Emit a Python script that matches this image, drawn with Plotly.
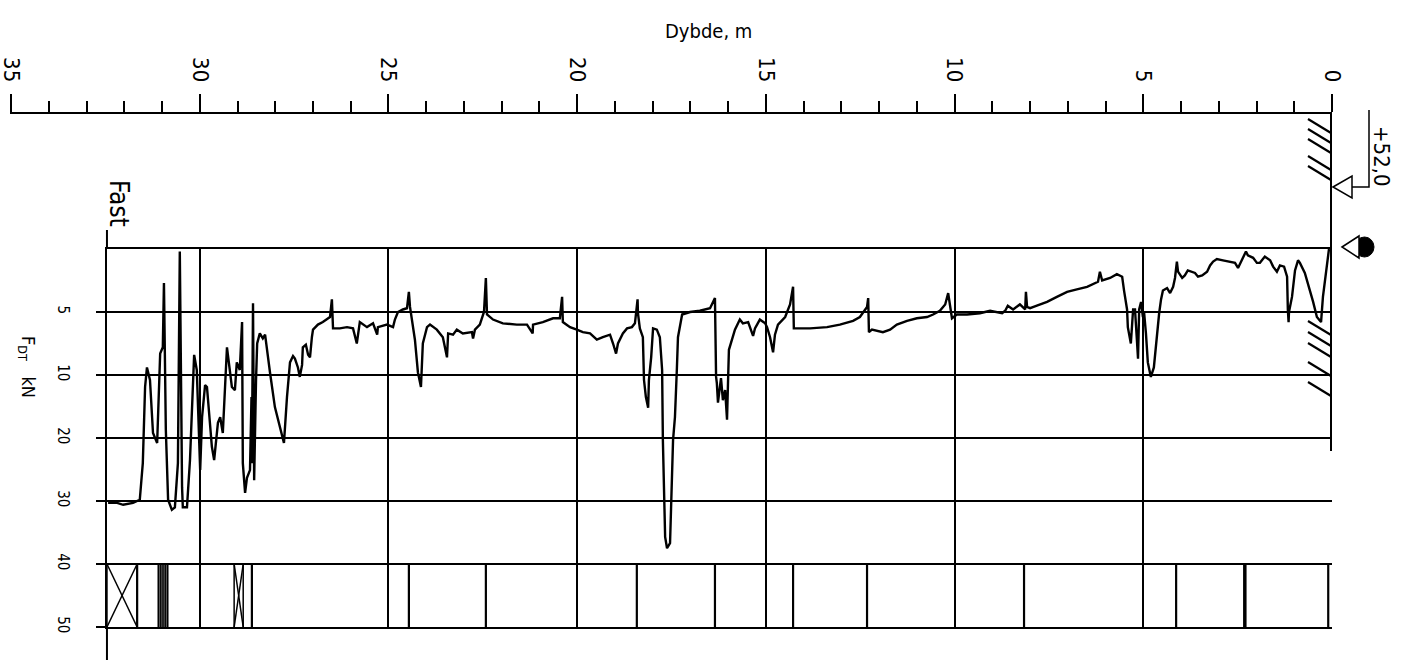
import plotly.graph_objects as go

W, H = 1408, 669

# ---------------- data ----------------
depth_m = [0.08, 0.13, 0.24, 0.29, 0.40, 0.50, 0.58, 0.64, 0.72, 0.85, 0.90, 0.98, 1.06, 1.14, 1.15, 1.17, 1.19, 1.27,
           1.38, 1.46, 1.56, 1.64, 1.78, 1.91, 1.99, 2.09, 2.23, 2.28, 2.36, 2.49, 2.57, 2.70, 2.89, 3.05, 3.15, 3.23,
           3.31, 3.44, 3.55, 3.63, 3.71, 3.82, 3.90, 3.97, 4.08, 4.11, 4.16, 4.21, 4.29, 4.37, 4.48, 4.53, 4.58, 4.64,
           4.72, 4.80, 4.88, 4.93, 4.98, 5.01, 5.06, 5.11, 5.14, 5.17, 5.22, 5.27, 5.33, 5.41, 5.43, 5.51, 5.56, 5.70,
           5.88, 6.09, 6.15, 6.20, 6.49, 6.76, 7.02, 7.29, 7.55, 7.82, 8.00, 8.08, 8.11, 8.13, 8.27, 8.45, 8.59, 8.66,
           8.74, 9.06, 9.33, 9.67, 9.94, 10.07, 10.10, 10.17, 10.25, 10.39, 10.57, 10.73, 11.00, 11.26, 11.53, 11.71,
           11.90, 12.19, 12.27, 12.29, 12.32, 12.51, 12.69, 13.04, 13.38, 13.83, 14.26, 14.28, 14.36, 14.49, 14.68,
           14.76, 14.81, 14.89, 14.97, 15.02, 15.16, 15.29, 15.34, 15.47, 15.61, 15.69, 15.82, 15.90, 15.98, 16.00,
           16.03, 16.08, 16.14, 16.19, 16.27, 16.30, 16.32, 16.35, 16.48, 16.75, 17.01, 17.22, 17.28, 17.33, 17.36,
           17.41, 17.46, 17.54, 17.62, 17.67, 17.73, 17.75, 17.81, 17.89, 17.99, 18.04, 18.10, 18.12, 18.18, 18.23,
           18.26, 18.34, 18.39, 18.40, 18.47, 18.55, 18.68, 18.79, 18.92, 18.97, 19.05, 19.13, 19.32, 19.48, 19.66,
           19.85, 20.01, 20.19, 20.38, 20.40, 20.46, 20.64, 20.91, 21.17, 21.18, 21.33, 21.60, 21.97, 22.23, 22.39,
           22.42, 22.47, 22.58, 22.71, 22.76, 22.79, 23.03, 23.19, 23.29, 23.42, 23.45, 23.56, 23.72, 23.90, 23.98,
           24.09, 24.14, 24.22, 24.30, 24.35, 24.43, 24.46, 24.51, 24.62, 24.75, 24.83, 24.88, 25.04, 25.28, 25.30,
           25.41, 25.57, 25.76, 25.84, 25.94, 26.10, 26.29, 26.47, 26.50, 26.55, 26.74, 26.87, 27.00, 27.03, 27.08,
           27.13, 27.19, 27.27, 27.29, 27.35, 27.40, 27.48, 27.53, 27.61, 27.69, 27.77, 27.88, 28.01, 28.14, 28.22,
           28.27, 28.33, 28.41, 28.48, 28.51, 28.56, 28.59, 28.62, 28.63, 28.67, 28.75, 28.80, 28.86, 28.88, 28.94,
           29.02, 29.07, 29.15, 29.23, 29.28, 29.39, 29.46, 29.52, 29.62, 29.68, 29.81, 29.86, 29.94, 29.99, 30.08,
           30.15, 30.18, 30.26, 30.34, 30.45, 30.47, 30.53, 30.58, 30.66, 30.74, 30.84, 30.90, 30.95, 30.98, 31.05,
           31.13, 31.24, 31.32, 31.40, 31.45, 31.51, 31.59, 31.77, 32.03, 32.19, 32.43]

f_dt_kN = [0.0, 1.1, 3.8, 5.8, 5.4, 4.2, 3.3, 2.7, 1.9, 1.1, 0.9, 1.7, 3.8, 5.0, 5.8, 4.8, 2.2, 1.4,
           1.3, 1.8, 1.4, 0.9, 0.6, 1.1, 1.1, 0.7, 0.5, 0.2, 0.7, 1.5, 1.1, 1.0, 0.9, 0.8, 1.0, 1.3,
           1.8, 2.1, 2.2, 1.9, 1.8, 1.7, 2.1, 2.3, 1.8, 1.0, 2.3, 3.0, 3.5, 3.1, 3.3, 4.0, 5.1, 7.2,
           9.4, 10.3, 9.0, 6.7, 5.0, 5.4, 4.2, 4.8, 8.7, 7.2, 4.8, 4.8, 7.5, 6.2, 4.8, 3.3, 2.2, 2.0,
           2.3, 2.5, 1.8, 2.6, 3.0, 3.2, 3.4, 3.8, 4.2, 4.5, 4.7, 4.6, 3.4, 4.8, 4.4, 4.8, 4.5, 4.9,
           5.1, 4.9, 5.1, 5.2, 5.2, 5.5, 4.9, 3.5, 4.4, 4.9, 5.2, 5.4, 5.5, 5.7, 6.0, 6.4,
           6.6, 6.4, 6.6, 3.9, 4.6, 5.4, 5.7, 6.0, 6.2, 6.3, 6.3, 3.0, 4.4, 5.4, 6.0,
           6.8, 8.2, 7.0, 6.2, 5.9, 5.6, 6.3, 6.9, 5.8, 5.9, 5.6, 6.4, 7.2, 8.0, 10.3,
           17.1, 12.4, 14.0, 10.5, 14.4, 11.3, 10.3, 3.9, 4.7, 4.9, 5.0, 5.2, 6.4, 7.0, 9.6,
           16.7, 20.3, 36.7, 37.5, 35.7, 20.3, 9.6, 7.0, 6.4, 6.3, 8.6, 10.8, 15.2, 13.5, 10.8,
           7.0, 6.3, 5.1, 4.0, 5.9, 6.2, 6.3, 6.7, 7.5, 8.3, 7.5, 6.8, 7.0, 7.2, 6.7,
           6.6, 6.4, 6.2, 5.8, 3.8, 5.5, 5.5, 5.8, 6.0, 6.7, 6.0, 6.0, 5.9, 5.6, 5.2,
           2.3, 5.0, 6.0, 6.4, 7.1, 6.6, 6.7, 6.4, 6.8, 6.7, 8.6, 7.0, 6.4, 6.0, 6.2,
           7.5, 11.9, 9.8, 7.2, 6.2, 4.6, 3.4, 4.7, 4.8, 5.0, 5.6, 6.2, 6.0, 6.2, 6.8,
           5.9, 6.2, 5.8, 7.5, 6.3, 6.2, 6.3, 6.3, 4.0, 5.4, 5.8, 6.0, 6.4, 7.0, 8.6,
           8.4, 7.6, 7.8, 9.2, 10.3, 9.4, 8.7, 8.5, 9.0, 13.5, 20.8, 18.3, 15.1, 9.8, 7.8,
           6.8, 7.1, 6.7, 7.5, 10.8, 26.7, 4.3, 24.0, 13.5, 25.1, 26.3, 28.7, 24.0, 5.8, 9.6,
           9.0, 12.4, 11.9, 8.8, 7.8, 19.2, 16.7, 17.6, 23.5, 21.4, 11.9, 11.6, 16.7, 25.1, 9.6,
           8.4, 10.8, 23.5, 31.0, 31.0, 27.8, 0.2, 24.0, 31.0, 31.4, 29.8, 18.7, 2.7, 7.8, 8.3,
           20.8, 19.2, 10.8, 9.4, 11.9, 24.0, 29.8, 30.3, 30.6, 30.3, 30.3]

# depth axis (top) and grid
depth_max = 35
end_depth = 32.46
grid_depths = [5, 10, 15, 20, 25, 30]
depth_ticks = [0, 5, 10, 15, 20, 25, 30, 35]
depth_tick_labels = ["0", "5", "10", "15", "20", "25", "30", "35"]

# force axis
force_ticks = [5, 10, 20, 30, 40, 50]
force_tick_labels = ["5", "10", "20", "30", "40", "50"]
strip_top_kN, strip_bot_kN = 40, 50

# rod / strip markers (depth, m)
rod_marks = [31.66, 28.62, 24.46, 22.42, 18.42, 16.35, 14.28, 12.32, 8.16, 4.13, 0.10]
rod_marks_thick = [2.31]
dense_band = [31.10, 31.05, 31.00, 30.95, 30.90, 30.85]
x_boxes = [(32.46, 31.66), (29.09, 28.85)]

terrain_text = "+52,0"
stop_text = "Fast"


def ft(f):
    """piecewise force scale: 0-10 kN doubled, 10-50 kN linear"""
    return f / 5.0 if f <= 10 else 2.0 + (f - 10) / 10.0


# pixel geometry helpers for layout
PX_PER_M = 37.74
X0 = 1332  # pixel of depth 0
def px(x):
    return x / W
def py(y):
    return 1 - y / H

FONT = "Liberation Sans Narrow, DejaVu Sans Condensed, Liberation Sans, Arial, sans-serif"
BLACK = "#000000"

fig = go.Figure()

# main curve
fig.add_trace(go.Scatter(x=depth_m, y=[ft(v) for v in f_dt_kN], mode="lines",
                         line=dict(color=BLACK, width=2.4), hoverinfo="skip", showlegend=False))

# strip markers
yt, yb = ft(strip_top_kN), ft(strip_bot_kN)
xs, ys = [], []
for d in rod_marks:
    xs += [d, d, None]
    ys += [yt, yb, None]
fig.add_trace(go.Scatter(x=xs, y=ys, mode="lines", line=dict(color=BLACK, width=2.2),
                         hoverinfo="skip", showlegend=False))
xs, ys = [], []
for d in rod_marks_thick:
    xs += [d, d, None]
    ys += [yt, yb, None]
fig.add_trace(go.Scatter(x=xs, y=ys, mode="lines", line=dict(color=BLACK, width=3.5),
                         hoverinfo="skip", showlegend=False))
xs, ys = [], []
for d in dense_band:
    xs += [d, d, None]
    ys += [yt, yb, None]
fig.add_trace(go.Scatter(x=xs, y=ys, mode="lines", line=dict(color=BLACK, width=1.6),
                         hoverinfo="skip", showlegend=False))
xs, ys = [], []
for a, b in x_boxes:
    xs += [a, b, None, a, b, None, b, b, None, a, a, None]
    ys += [yt, yb, None, yb, yt, None, yt, yb, None, yt, yb, None]
fig.add_trace(go.Scatter(x=xs, y=ys, mode="lines", line=dict(color=BLACK, width=1.5),
                         hoverinfo="skip", showlegend=False))

# dummy trace to show the top depth axis
fig.add_trace(go.Scatter(x=[0], y=[0], xaxis="x2", yaxis="y2", mode="markers",
                         marker=dict(opacity=0), hoverinfo="skip", showlegend=False))

x_left_px = X0 - end_depth * PX_PER_M
top_range = depth_max + 0.02
fig.update_layout(
    width=W, height=H, autosize=False,
    margin=dict(l=0, r=0, t=0, b=0),
    paper_bgcolor="white", plot_bgcolor="rgba(0,0,0,0)",
    font=dict(family=FONT, color=BLACK),
    xaxis=dict(domain=[px(x_left_px), px(X0)], range=[end_depth, 0], automargin=False,
               tickvals=grid_depths, showticklabels=False, ticks="",
               showgrid=True, gridcolor=BLACK, gridwidth=2, zeroline=False,
               showline=True, mirror=True, linecolor=BLACK, linewidth=2),
    yaxis=dict(domain=[py(627), py(249)], range=[ft(50), 0], automargin=False,
               tickvals=[ft(v) for v in force_ticks], ticktext=force_tick_labels,
               ticks="outside", ticklen=9, tickwidth=2, tickcolor=BLACK,
               tickangle=90, tickfont=dict(size=15, family=FONT), ticklabelstandoff=20,
               ticklabeloverflow="allow",
               showgrid=True, gridcolor=BLACK, gridwidth=2, zeroline=False,
               showline=True, linecolor=BLACK, linewidth=2),
    xaxis2=dict(domain=[px(X0 - top_range * PX_PER_M), px(X0)], range=[top_range, 0],
                anchor="y2", side="top", automargin=False,
                tickvals=depth_ticks, ticktext=depth_tick_labels,
                ticks="outside", ticklen=18, tickwidth=2, tickcolor=BLACK,
                minor=dict(dtick=1, tick0=0, ticks="outside", ticklen=11, tickwidth=2, tickcolor=BLACK,
                           showgrid=False),
                tickangle=90, tickfont=dict(size=22, family=FONT), ticklabelstandoff=4,
                ticklabeloverflow="allow",
                showgrid=False, zeroline=False, showline=True, linecolor=BLACK, linewidth=2),
    yaxis2=dict(domain=[py(116), py(114)], range=[0, 1], automargin=False,
                showgrid=False, showticklabels=False, zeroline=False, showline=False, ticks=""),
)

shapes = []
L = dict(color=BLACK, width=2)
# extensions of the force axis line
shapes.append(dict(type="line", xref="paper", yref="paper", x0=px(x_left_px), x1=px(x_left_px),
                   y0=py(230), y1=py(249), line=L))
shapes.append(dict(type="line", xref="paper", yref="paper", x0=px(x_left_px), x1=px(x_left_px),
                   y0=py(627), y1=py(660), line=L))
# right border line (depth 0)
shapes.append(dict(type="line", xref="paper", yref="paper", x0=px(X0 - 1), x1=px(X0 - 1),
                   y0=py(114), y1=py(451), line=L))
# hatching (ground)
for y0 in [119, 129, 139, 156, 166]:
    shapes.append(dict(type="line", xref="paper", yref="paper", x0=px(1308), x1=px(1331),
                       y0=py(y0), y1=py(y0 + 14), line=dict(color=BLACK, width=2.2)))
for y0 in [321, 332, 343, 362, 382]:
    shapes.append(dict(type="line", xref="paper", yref="paper", x0=px(1308), x1=px(1331),
                       y0=py(y0), y1=py(y0 + 14), line=dict(color=BLACK, width=2.2)))
# terrain level marker
shapes.append(dict(type="path", xref="paper", yref="paper",
                   path=f"M {px(1333)} {py(187)} L {px(1352)} {py(176)} L {px(1352)} {py(198)} Z",
                   line=dict(color=BLACK, width=1.5), fillcolor="white"))
shapes.append(dict(type="path", xref="paper", yref="paper",
                   path=f"M {px(1352)} {py(187)} L {px(1369)} {py(187)} L {px(1369)} {py(110)}",
                   line=dict(color=BLACK, width=1.5)))
# water level symbol
shapes.append(dict(type="circle", xref="paper", yref="paper",
                   x0=px(1355), x1=px(1374), y0=py(257), y1=py(237),
                   line=dict(color=BLACK, width=1), fillcolor=BLACK))
shapes.append(dict(type="path", xref="paper", yref="paper",
                   path=f"M {px(1342)} {py(247)} L {px(1359)} {py(236)} L {px(1359)} {py(258)} Z",
                   line=dict(color=BLACK, width=1.5), fillcolor="white"))
fig.update_layout(shapes=shapes)

ann = []
ann.append(dict(text="Dybde, m", x=px(708), y=py(31), xref="paper", yref="paper",
                showarrow=False, xanchor="center", yanchor="middle", font=dict(size=20, family=FONT)))
ann.append(dict(text=stop_text, x=px(119), y=py(203), xref="paper", yref="paper", textangle=90,
                showarrow=False, xanchor="center", yanchor="middle", font=dict(size=26, family=FONT)))
ann.append(dict(text="F<sub>DT</sub>   kN", x=px(27), y=py(367), xref="paper", yref="paper", textangle=90,
                showarrow=False, xanchor="center", yanchor="middle", font=dict(size=18, family=FONT)))
ann.append(dict(text=terrain_text, x=px(1382), y=py(156), xref="paper", yref="paper", textangle=90,
                showarrow=False, xanchor="center", yanchor="middle", font=dict(size=22, family=FONT)))
fig.update_layout(annotations=ann)

fig.write_html("out.html")
